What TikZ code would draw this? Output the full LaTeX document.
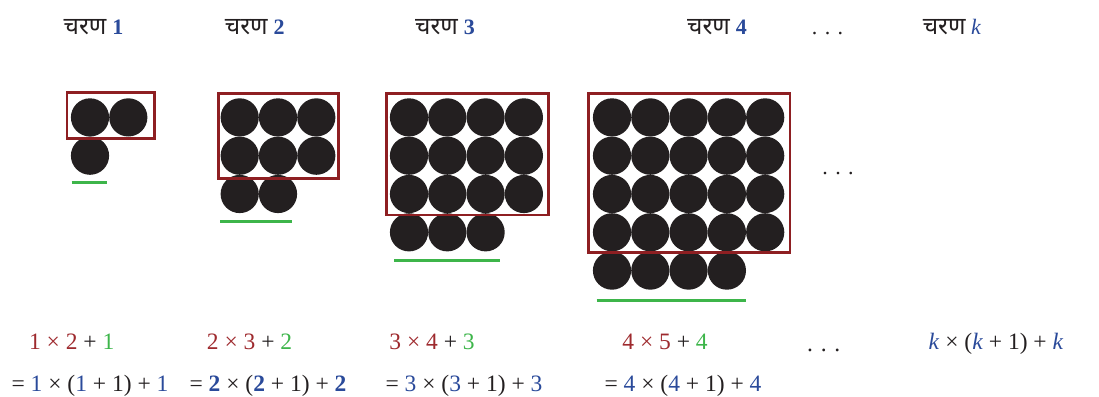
\documentclass[tikz,border=0pt]{standalone}
\usepackage{fontspec}
\setmainfont{Liberation Serif}
\newfontfamily\deva[Script=Devanagari,Scale=1.1]{Noto Sans}
\definecolor{rbox}{HTML}{8E1F22}
\definecolor{rtxt}{HTML}{9E2A2E}
\definecolor{gline}{HTML}{3DB54A}
\definecolor{btxt}{HTML}{2A4A9A}
\definecolor{ink}{HTML}{231F20}
\newcommand\drawstage[2]{%
  \foreach \r in {0,...,#2}{%
    \pgfmathtruncatemacro\nc{\r<#2 ? #2 : #2-1}%
    \foreach \c in {0,...,\nc}{%
      \fill[dotfill] (#1+\c*38.3, 117.4+\r*38.3) circle (19.1);
    }%
  }%
}
\newcommand\bl[1]{\textcolor{btxt}{#1}}
\begin{document}
\begin{tikzpicture}[x=1pt,y=-1pt,
  dotfill/.style={fill=ink},
  box/.style={draw=rbox,line width=2.6pt},
  gl/.style={draw=gline,line width=3pt},
  head/.style={anchor=base,inner sep=0pt,font=\fontsize{22}{24}\selectfont,text=ink},
  eq/.style={anchor=base,inner sep=0pt,font=\fontsize{23.5}{26}\selectfont,text=ink}]
\useasboundingbox (0,0) rectangle (1099,396);
% headings
\node[head] (h1) at (93.5,35) {{\deva चरण} \textbf{\bl{1}}};
\node[head] (h2) at (254.7,35) {{\deva चरण} \textbf{\bl{2}}};
\node[head] (h3) at (445,35) {{\deva चरण} \textbf{\bl{3}}};
\node[head] (h4) at (717,35) {{\deva चरण} \textbf{\bl{4}}};
\node[head] (hd) at (827.5,35) {.\,\,.\,\,.};
\node[head] (hk) at (952,35) {{\deva चरण} \bl{\textit{k}}};
% dot patterns
\drawstage{90}{1}
\drawstage{239.7}{2}
\drawstage{409}{3}
\drawstage{612}{4}
\draw[box] (67,92.7) rectangle (154.7,138.7);
\draw[box] (218.3,93.3) rectangle (338.7,178.3);
\draw[box] (386.7,93.3) rectangle (548.3,215);
\draw[box] (588.7,93.3) rectangle (790,252.3);
\draw[gl] (71.7,182.7) -- (107.3,182.7);
\draw[gl] (220,221.3) -- (292.3,221.3);
\draw[gl] (394.3,260) -- (500.3,260);
\draw[gl] (596.7,300) -- (745.7,300);
\node[head] (md) at (838,174) {.\,\,.\,\,.};
% formulas
\node[eq] (a1) at (71.7,349.3) {\textcolor{rtxt}{1 × 2} + \textcolor{gline}{1}};
\node[eq] (a2) at (249.5,349.3) {\textcolor{rtxt}{2 × 3} + \textcolor{gline}{2}};
\node[eq] (a3) at (432,349.3) {\textcolor{rtxt}{3 × 4} + \textcolor{gline}{3}};
\node[eq] (a4) at (665,349.3) {\textcolor{rtxt}{4 × 5} + \textcolor{gline}{4}};
\node[eq] (ad) at (823.7,351.7) {.\,\,.\,\,.};
\node[eq] (ak) at (996,349.3) {\bl{\textit{k}} × (\bl{\textit{k}} + 1) + \bl{\textit{k}}};
\node[eq] (b1) at (90,391) {= \bl{1} × (\bl{1} + 1) + \bl{1}};
\node[eq] (b2) at (268,391) {= \bl{\textbf{2}} × (\bl{\textbf{2}} + 1) + \bl{\textbf{2}}};
\node[eq] (b3) at (464,391) {= \bl{3} × (\bl{3} + 1) + \bl{3}};
\node[eq] (b4) at (683,391) {= \bl{4} × (\bl{4} + 1) + \bl{4}};
\end{tikzpicture}
\end{document}
